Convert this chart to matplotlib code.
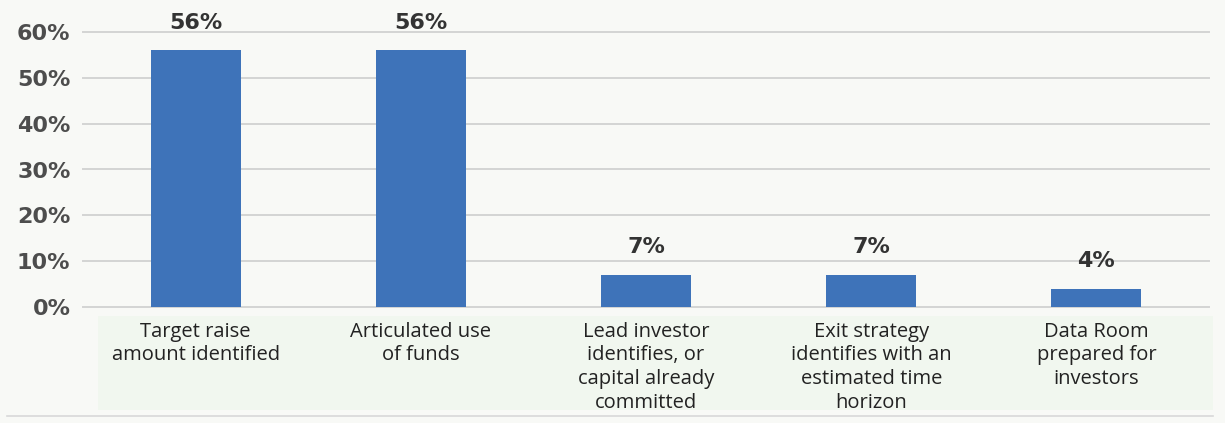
import matplotlib
matplotlib.use("Agg")
import matplotlib.pyplot as plt
from matplotlib.patches import Rectangle
from matplotlib.lines import Line2D

categories = [
    "Target raise\namount identified",
    "Articulated use\nof funds",
    "Lead investor\nidentifies, or\ncapital already\ncommitted",
    "Exit strategy\nidentifies with an\nestimated time\nhorizon",
    "Data Room\nprepared for\ninvestors",
]
values = [56, 56, 7, 7, 4]
yticks = [0, 10, 20, 30, 40, 50, 60]
ytick_labels = ["0%", "10%", "20%", "30%", "40%", "50%", "60%"]

W, H = 1225, 423
fig = plt.figure(figsize=(W / 100, H / 100), dpi=100)
bg = "#f8f9f6"
fig.patch.set_facecolor(bg)

# label band and bottom rule (drawn beneath everything)
fig.patches.append(Rectangle((98 / W, (H - 410) / H), (1213 - 98) / W, (410 - 316) / H,
                             transform=fig.transFigure, facecolor="#f1f7ef",
                             edgecolor="none", zorder=-5))
fig.lines.append(Line2D([7 / W, 1213 / W], [(H - 416) / H] * 2, transform=fig.transFigure,
                        color="#d8d8d8", linewidth=1.2, zorder=-5))

ax = fig.add_axes([83 / W, (H - 307) / H, (1209 - 83) / W, (307 - 32) / H])
ax.set_facecolor(bg)

x = list(range(len(categories)))
ax.bar(x, values, width=0.4, color="#3e73b9", zorder=3)
ax.set_xlim(-0.5, len(categories) - 0.5)
ax.set_ylim(0, 60)
ax.set_yticks(yticks)
ax.set_yticklabels(ytick_labels, fontsize=16, fontweight="bold", color="#4d4d4d",
                   family="DejaVu Sans")
ax.tick_params(axis="y", length=0, pad=9)
ax.set_xticks([])
ax.grid(axis="y", color="#d4d4d4", linewidth=1.4, zorder=0)
for gl in ax.get_ygridlines():
    gl.set_clip_on(False)
for s in ax.spines.values():
    s.set_visible(False)

for xi, v in zip(x, values):
    ax.annotate(f"{v}%", (xi, v), xytext=(0, 20), textcoords="offset points",
                ha="center", va="center", fontsize=16, fontweight="bold",
                color="#333333", family="DejaVu Sans", annotation_clip=False)

for xi, c in zip(x, categories):
    xf = ax.transData.transform((xi, 0))[0] / W
    fig.text(xf, (H - 321.5) / H, c, ha="center", va="top",
             fontsize=14.5, color="#222222", family="Open Sans", linespacing=1.255)

fig.savefig("out.png", dpi=100, facecolor=bg)
